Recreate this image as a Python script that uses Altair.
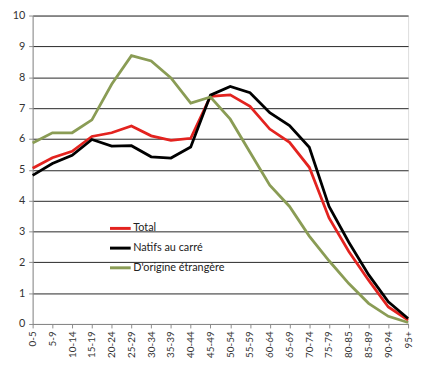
import altair as alt
import pandas as pd

categories = ["0-5", "5-9", "10-14", "15-19", "20-24", "25-29", "30-34", "35-39",
              "40-44", "45-49", "50-54", "55-59", "60-64", "65-69", "70-74", "75-79",
              "80-85", "85-89", "90-94", "95+"]
total = [5.05, 5.39, 5.6, 6.08, 6.2, 6.42, 6.1, 5.95, 6.02, 7.38, 7.43, 7.06, 6.32,
         5.89, 5.08, 3.44, 2.35, 1.42, 0.55, 0.13]
natifs = [4.82, 5.2, 5.47, 5.98, 5.77, 5.78, 5.42, 5.38, 5.74, 7.42, 7.7, 7.5, 6.85,
          6.43, 5.73, 3.81, 2.65, 1.6, 0.72, 0.18]
etrangere = [5.87, 6.2, 6.2, 6.62, 7.77, 8.7, 8.53, 7.98, 7.16, 7.36, 6.64, 5.57, 4.5,
             3.81, 2.85, 2.05, 1.31, 0.67, 0.25, 0.05]
series_names = ["Total", "Natifs au carré", "D'origine étrangère"]
series_colors = ["#e3231f", "#000000", "#8a9c55"]

rows = []
for name, vals in zip(series_names, [total, natifs, etrangere]):
    for i, (c, v) in enumerate(zip(categories, vals)):
        rows.append({"age": c, "valeur": v, "serie": name, "ordre": series_names.index(name)})
df = pd.DataFrame(rows)

FONT = "Lato"

chart = alt.Chart(df).mark_line(strokeWidth=2.8).encode(
    x=alt.X("age:N", sort=categories, title=None,
            scale=alt.Scale(type="point", padding=0),
            axis=alt.Axis(labelAngle=-90, labelFontSize=10, labelColor="#333333",
                          domainColor="#8c8c8c", tickColor="#8c8c8c", tickSize=4,
                          labelPadding=3, zindex=1, labelFont=FONT)),
    y=alt.Y("valeur:Q", title=None,
            scale=alt.Scale(domain=[0, 10], nice=False),
            axis=alt.Axis(values=list(range(0, 11)), labelFontSize=11, labelColor="#333333",
                          domainColor="#8c8c8c", tickColor="#8c8c8c", tickSize=4,
                          grid=True, gridColor="#262626", gridWidth=1,
                          labelPadding=4, labelFont=FONT)),
    color=alt.Color("serie:N", sort=series_names,
                    scale=alt.Scale(domain=series_names, range=series_colors),
                    legend=alt.Legend(title=None, orient="none", legendX=77, legendY=204,
                                      symbolType="stroke", symbolSize=441,
                                      symbolStrokeWidth=3, labelOffset=1,
                                      labelFontSize=11, labelColor="#222222",
                                      labelFont=FONT, rowPadding=2, padding=0)),
    order="ordre:Q",
).properties(
    width=381, height=313,
    autosize=alt.AutoSizeParams(type="none"),
    padding={"left": 25, "top": 5, "right": 6, "bottom": 42},
).configure_view(stroke=None).configure(background="white")

chart.save("out.html", embed_options={"renderer": "svg", "actions": False})
